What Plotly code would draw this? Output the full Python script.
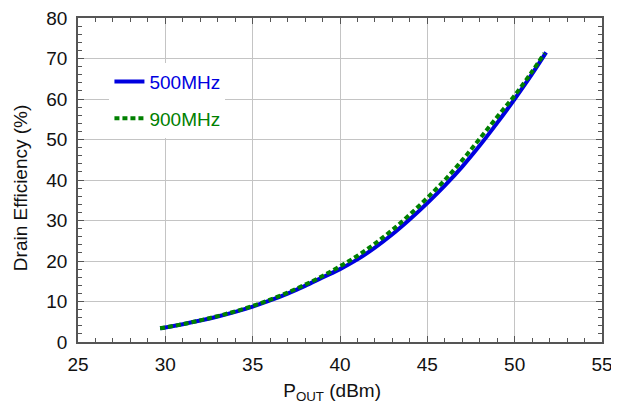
import plotly.graph_objects as go

# Pout (dBm)
x_500 = [29.7, 30, 31, 32, 33, 34, 35, 36, 37, 38, 39, 40, 41, 42, 43, 44, 45, 46, 47, 48, 49, 50, 51, 51.8]
eff_500 = [3.4, 3.6, 4.4, 5.3, 6.3, 7.45, 8.75, 10.25, 11.95, 13.85, 15.95, 18.0, 20.4, 23.3, 26.6, 30.3, 34.3, 38.6, 43.3, 48.5, 54.1, 60.0, 66.2, 71.5]

x_900 = [29.7, 30, 31, 32, 33, 34, 35, 36, 37, 38, 39, 40, 41, 42, 43, 44, 45, 46, 47, 48, 49, 50, 51, 51.7]
eff_900 = [3.4, 3.6, 4.4, 5.35, 6.4, 7.55, 8.9, 10.45, 12.2, 14.15, 16.3, 18.7, 21.3, 24.3, 27.7, 31.5, 35.6, 40.0, 44.9, 50.2, 55.6, 60.9, 66.8, 71.3]

names = ["500MHz", "900MHz"]
x_ticks = [25, 30, 35, 40, 45, 50, 55]
y_ticks = [0, 10, 20, 30, 40, 50, 60, 70, 80]

BLUE = "#0000e0"
GREEN = "#008000"
FONT = "Liberation Sans, Arial, sans-serif"
FS = 19

fig = go.Figure()
fig.add_trace(go.Scatter(x=x_500, y=eff_500, mode="lines",
                         name=f"<span style='color:{BLUE}'>{names[0]}</span>",
                         line=dict(color=BLUE, width=4, shape="spline"),
                         legendgroup="a"))
fig.add_trace(go.Scatter(x=x_900, y=eff_900, mode="lines",
                         name=f"<span style='color:{GREEN}'>{names[1]}</span>",
                         line=dict(color=GREEN, width=4, dash="5px,3px", shape="spline"),
                         legendgroup="b"))

axis_common = dict(
    showgrid=True, gridcolor="#c4c4c4", gridwidth=1,
    showline=True, linecolor="#555555", linewidth=1.5, mirror="allticks",
    ticks="inside", ticklen=6, tickcolor="#555555", tickwidth=1,
    tickfont=dict(size=FS, color="#111111", family=FONT),
    zeroline=False, automargin=False, ticklabeloverflow="allow",
)

fig.update_xaxes(range=[25, 55], tickvals=x_ticks, ticktext=[str(v) for v in x_ticks],
                 minor=dict(dtick=1, ticks="inside", ticklen=4, tickcolor="#555555", showgrid=False),
                 title=dict(text="P<sub>OUT</sub> (dBm)&nbsp;&nbsp;&nbsp;", font=dict(size=FS, color="#111111", family=FONT), standoff=12),
                 ticklabelstandoff=4,
                 **axis_common)
fig.update_yaxes(range=[0, 80], tickvals=y_ticks, ticktext=[str(v) for v in y_ticks],
                 minor=dict(dtick=2, ticks="inside", ticklen=4, tickcolor="#555555", showgrid=False),
                 title=dict(text="Drain Efficiency (%)&nbsp;&nbsp;&nbsp;", font=dict(size=FS, color="#111111", family=FONT), standoff=14),
                 ticklabelstandoff=5,
                 **axis_common)

# page body has an 8px margin, so the figure is sized/offset to place the plot area correctly
fig.update_layout(
    width=611, height=396,
    margin=dict(l=70, r=17, t=10, b=62),
    paper_bgcolor="white", plot_bgcolor="white",
    font=dict(family=FONT, size=FS, color="#111111"),
    showlegend=True,
    legend=dict(x=0.060, y=0.862, xanchor="left", yanchor="top",
                bgcolor="white", borderwidth=0,
                tracegroupgap=9, itemwidth=30,
                font=dict(size=FS, family=FONT)),
)

fig.write_html("out.html")
